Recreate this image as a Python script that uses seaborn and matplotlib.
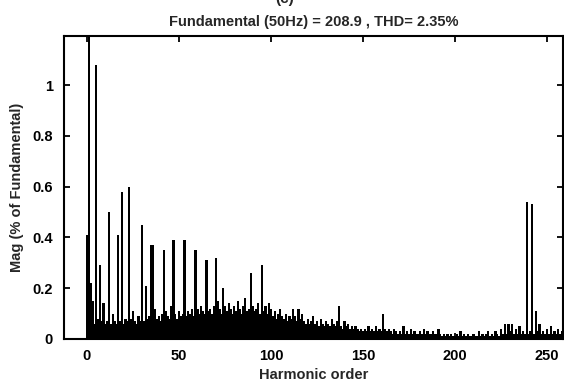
import matplotlib
matplotlib.use("Agg")
import matplotlib.pyplot as plt
import seaborn as sns
import pandas as pd

# ---------------- data ----------------
title_text = "Fundamental (50Hz) = 208.9 , THD= 2.35%"
x_label = "Harmonic order"
y_label = "Mag (% of Fundamental)"
x_ticks = [0, 50, 100, 150, 200, 250]
y_ticks = [0, 0.2, 0.4, 0.6, 0.8, 1.0]
y_tick_labels = ["0", "0.2", "0.4", "0.6", "0.8", "1"]

# background spectrum ("grass"), one value per harmonic order 0..258
floor_mag = [
    0.00, 0.00, 0.08, 0.07, 0.06, 0.07, 0.08, 0.06, 0.07, 0.09,
    0.06, 0.07, 0.08, 0.06, 0.10, 0.07, 0.06, 0.08, 0.07, 0.09,
    0.06, 0.08, 0.07, 0.06, 0.08, 0.11, 0.07, 0.06, 0.09, 0.07,
    0.08, 0.07, 0.10, 0.08, 0.09, 0.07, 0.08, 0.12, 0.08, 0.09,
    0.07, 0.10, 0.08, 0.11, 0.09, 0.08, 0.13, 0.09, 0.10, 0.08,
    0.11, 0.09, 0.10, 0.14, 0.09, 0.11, 0.10, 0.12, 0.09, 0.10,
    0.12, 0.10, 0.13, 0.11, 0.10, 0.14, 0.11, 0.12, 0.10, 0.13,
    0.11, 0.15, 0.12, 0.10, 0.20, 0.13, 0.11, 0.14, 0.12, 0.10,
    0.13, 0.11, 0.15, 0.12, 0.10, 0.13, 0.16, 0.11, 0.12, 0.10,
    0.13, 0.11, 0.12, 0.14, 0.10, 0.12, 0.11, 0.13, 0.10, 0.14,
    0.12, 0.09, 0.11, 0.08, 0.10, 0.12, 0.09, 0.08, 0.10, 0.07,
    0.09, 0.08, 0.12, 0.09, 0.07, 0.12, 0.08, 0.10, 0.07, 0.06,
    0.08, 0.06, 0.07, 0.09, 0.06, 0.07, 0.05, 0.08, 0.06, 0.05,
    0.07, 0.06, 0.05, 0.08, 0.06, 0.05, 0.07, 0.05, 0.05, 0.04,
    0.07, 0.05, 0.06, 0.04, 0.05, 0.04, 0.05, 0.04, 0.03, 0.04,
    0.03, 0.04, 0.03, 0.05, 0.03, 0.04, 0.03, 0.05, 0.03, 0.04,
    0.03, 0.03, 0.04, 0.03, 0.04, 0.03, 0.02, 0.04, 0.03, 0.02,
    0.03, 0.02, 0.05, 0.02, 0.03, 0.02, 0.04, 0.02, 0.03, 0.02,
    0.02, 0.03, 0.02, 0.04, 0.02, 0.03, 0.02, 0.02, 0.03, 0.02,
    0.02, 0.04, 0.02, 0.01, 0.02, 0.01, 0.02, 0.01, 0.02, 0.01,
    0.01, 0.02, 0.01, 0.03, 0.01, 0.02, 0.01, 0.02, 0.01, 0.01,
    0.02, 0.01, 0.01, 0.03, 0.01, 0.02, 0.01, 0.02, 0.03, 0.01,
    0.02, 0.01, 0.03, 0.02, 0.01, 0.04, 0.02, 0.06, 0.02, 0.06,
    0.03, 0.06, 0.02, 0.04, 0.02, 0.05, 0.02, 0.03, 0.02, 0.02,
    0.02, 0.03, 0.04, 0.02, 0.03, 0.03, 0.06, 0.02, 0.03, 0.02,
    0.04, 0.02, 0.05, 0.02, 0.03, 0.02, 0.04, 0.02, 0.03,
]

# dominant harmonic lines
peak_orders = [0, 1, 2, 3, 5, 7, 9, 12, 17, 19, 23, 30, 32, 35, 36,
               42, 47, 53, 59, 65, 70, 89, 95, 137, 161, 239, 242, 244]
peak_mags = [0.41, 100.0, 0.22, 0.15, 1.08, 0.29, 0.14, 0.50, 0.41, 0.58,
             0.60, 0.45, 0.21, 0.37, 0.37, 0.35, 0.39, 0.39, 0.35, 0.31,
             0.32, 0.26, 0.29, 0.13, 0.10, 0.54, 0.53, 0.11]

# ---------------- build table ----------------
orders = list(range(len(floor_mag)))
mag = list(floor_mag)
for o, m in zip(peak_orders, peak_mags):
    mag[o] = max(mag[o], m)
df = pd.DataFrame({"order": orders, "mag": mag})

# ---------------- plot ----------------
sns.set_style("ticks")
plt.rcParams["font.family"] = ["Liberation Sans", "DejaVu Sans"]
plt.rcParams["font.weight"] = "bold"

fig = plt.figure(figsize=(5.64, 3.87), dpi=100)
ax = fig.add_axes([64 / 564, 48 / 387, 499 / 564, 303 / 387])

sns.barplot(data=df, x="order", y="mag", native_scale=True, color="black",
            saturation=1, width=1.25, errorbar=None, linewidth=0,
            edgecolor="black", ax=ax)

ax.set_xlim(-12.5, 258.7)
ax.set_ylim(0, 1.193)
ax.set_xticks(x_ticks)
ax.set_xticklabels([str(t) for t in x_ticks])
ax.set_yticks(y_ticks)
ax.set_yticklabels(y_tick_labels)

for s in ax.spines.values():
    s.set_visible(True)
    s.set_color("black")
    s.set_linewidth(1.5)

ax.tick_params(direction="in", length=4, width=1.3, top=True, right=True,
               labelsize=10.5, colors="black")
ax.tick_params(axis="x", pad=7)
ax.tick_params(axis="y", pad=8)
for lab in ax.get_xticklabels() + ax.get_yticklabels():
    lab.set_fontweight("bold")

ax.set_title(title_text, fontsize=10.5, fontweight="bold", pad=7)
ax.set_xlabel(x_label, fontsize=10.5, fontweight="bold")
ax.set_ylabel(y_label, fontsize=10.5, fontweight="bold")
ax.xaxis.set_label_coords(0.5, -0.096)
ax.yaxis.set_label_coords(-0.080, 0.5)

# partially cropped panel label at the very top (cut off in the original too)
fig.text(0.505, 1 - 3 / 387, "(c)", ha="center", va="baseline",
         fontsize=11, fontweight="bold")

fig.savefig("out.png", dpi=100, facecolor="white")
